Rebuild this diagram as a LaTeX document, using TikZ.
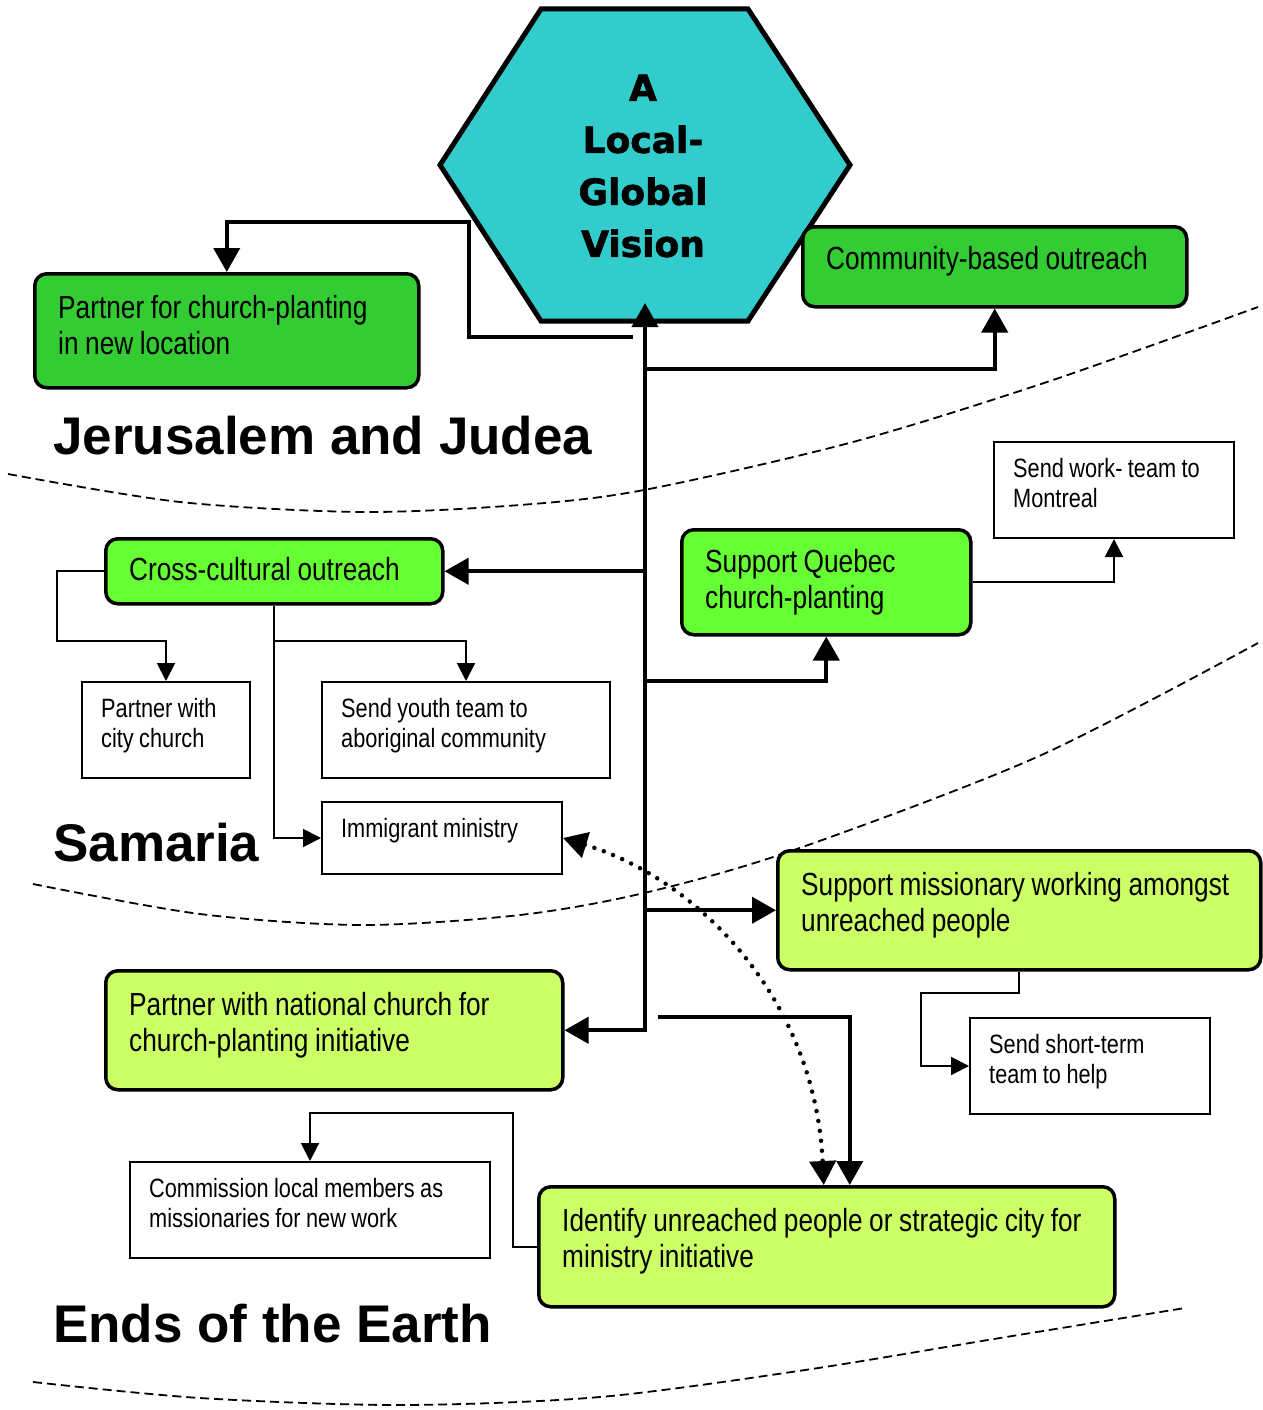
\documentclass[tikz,border=0pt]{standalone}
\usepackage{fontspec}
\setmainfont{Liberation Sans}[FakeStretch=0.82,WordSpace=0.9]
\newfontfamily\regionfont{Liberation Sans}
\newfontfamily\titlefont{DejaVu Sans}[FakeBold=1.8]
\usetikzlibrary{arrows.meta}
\definecolor{hexcol}{HTML}{33CCCC}
\definecolor{gA}{HTML}{33CC33}
\definecolor{gB}{HTML}{66FF33}
\definecolor{gC}{HTML}{CCFF66}
\tikzset{
  Tri/.tip={Triangle[length=24pt,width=26pt]},
  TriS/.tip={Triangle[length=18pt,width=18pt]},
  conn/.style={line width=4pt},
  thinconn/.style={line width=2pt},
  dotconn/.style={line width=4.5pt, dash pattern=on 0pt off 10pt, line cap=round},
  zone/.style={line width=1.8pt, dash pattern=on 9pt off 5pt},
  bigbox/.style={draw, line width=3.5pt, rounded corners=12pt, anchor=north west, inner sep=0pt},
  smallbox/.style={draw, line width=2pt, fill=white, anchor=north west, inner sep=0pt},
  btext/.style={anchor=west, xshift=25pt, inner sep=0pt, align=left, font=\fontsize{32}{36}\selectfont},
  stext/.style={anchor=west, xshift=20pt, inner sep=0pt, align=left, font=\fontsize{26.5}{30}\selectfont},
  region/.style={anchor=base west, inner sep=0pt, font=\regionfont\bfseries\fontsize{53}{60}\selectfont},
  title/.style={align=center, inner sep=0pt, font=\titlefont\bfseries\fontsize{36}{52}\selectfont},
}
\begin{document}
\begin{tikzpicture}[x=1pt,y=-1pt]
\useasboundingbox (0,0) rectangle (1262,1410);
\fill[white] (0,0) rectangle (1262,1410);

% zone boundaries
\draw[zone] plot[smooth] coordinates {(8,474) (180,502) (362,512) (520,505) (644,490) (853,442) (1050,381) (1258,307)};
\draw[zone] plot[smooth] coordinates {(33,884) (200,914) (362,925) (520,915) (644,893) (791,851) (1037,757) (1258,643)};
\draw[zone] plot[smooth] coordinates {(33,1382) (200,1398) (400,1405) (600,1397) (805,1370) (1000,1338) (1185,1308)};

% hexagon
\draw[line width=5pt, fill=hexcol, line join=miter] (541,9) -- (748,9) -- (850,165) -- (748,321) -- (541,321) -- (440,165) -- cycle;
\node[title] (vision) at (643,166) {A\\Local-\\Global\\Vision};
\coordinate (vtip) at (645,303);

% region labels
\node[region] (jer) at (53,454) {Jerusalem and Judea};
\node[region] (sam) at (53,861) {Samaria};
\node[region] (ends) at (53,1342) {Ends of the Earth};

% main boxes
\node[bigbox, fill=gA, minimum width=384pt, minimum height=114pt,
  label={[btext, yshift=6pt]west:{Partner for church-planting\\in new location}}] (partner) at (33,272) {};
\node[bigbox, fill=gA, minimum width=384pt, minimum height=80pt,
  label={[btext, yshift=6pt]west:{Community-based outreach}}] (community) at (801,225) {};
\node[bigbox, fill=gB, minimum width=337pt, minimum height=65pt,
  label={[btext, yshift=2pt]west:{Cross-cultural outreach}}] (cross) at (104,537) {};
\node[bigbox, fill=gB, minimum width=289pt, minimum height=105pt,
  label={[btext]west:{Support Quebec\\church-planting}}] (quebec) at (680,528) {};
\node[bigbox, fill=gC, minimum width=483pt, minimum height=119pt,
  label={[btext, yshift=5pt]west:{Support missionary working amongst\\unreached people}}] (missionary) at (776,849) {};
\node[bigbox, fill=gC, minimum width=457pt, minimum height=119pt,
  label={[btext, yshift=5pt]west:{Partner with national church for\\church-planting initiative}}] (national) at (104,969) {};
\node[bigbox, fill=gC, minimum width=576pt, minimum height=120pt,
  label={[btext, yshift=6pt]west:{Identify unreached people or strategic city for\\ministry initiative}}] (identify) at (537,1185) {};

% small boxes
\node[smallbox, minimum width=240pt, minimum height=96pt,
  label={[stext, yshift=7pt]west:{Send work- team to\\Montreal}}] (montreal) at (993,441) {};
\node[smallbox, minimum width=168pt, minimum height=96pt,
  label={[stext, yshift=4pt]west:{Partner with\\city church}}] (city) at (81,681) {};
\node[smallbox, minimum width=288pt, minimum height=96pt,
  label={[stext, yshift=4pt]west:{Send youth team to\\aboriginal community}}] (youth) at (321,681) {};
\node[smallbox, minimum width=240pt, minimum height=72pt,
  label={[stext, yshift=7pt]west:{Immigrant ministry}}] (immig) at (321,801) {};
\node[smallbox, minimum width=240pt, minimum height=96pt,
  label={[stext, yshift=4pt]west:{Send short-term\\team to help}}] (shortterm) at (969,1017) {};
\node[smallbox, minimum width=360pt, minimum height=96pt,
  label={[stext, yshift=7pt]west:{Commission local members as\\missionaries for new work}}] (commission) at (129,1161) {};

% thick connectors
\coordinate (j1) at (645,369);
\coordinate (j3) at (645,681);
\coordinate (pstart) at (633,337);
\coordinate (istart) at (658,1017);
\draw[conn, {Tri}-{Tri}] (national.east) -| (vtip);
\draw[conn, -{Tri}] (j1) -| (community.south);
\draw[conn, -{Tri}] (vtip |- cross.east) -- (cross.east);
\draw[conn, -{Tri}] (j3) -| (quebec.south);
\draw[conn, -{Tri}] (vtip |- missionary.west) -- (missionary.west);
\draw[conn, -{Tri}] (pstart) -- (469,337) -- (469,222) -| (partner.north);
\draw[conn, -{Tri}] (istart) -| ([xshift=23pt]identify.north);
\draw[dotconn, {Tri}-{Tri}] (immig.east) .. controls (700,880) and (815,1000) .. ([xshift=-3pt]identify.north);

% thin connectors
\draw[thinconn, -{TriS}] (cross.west) -| (57,641) -| (city.north);
\draw[thinconn, -{TriS}] (cross.south) -- (cross.south |- 0,641) -| (youth.north);
\draw[thinconn, -{TriS}] (cross.south) |- (immig.west);
\draw[thinconn, -{TriS}] (quebec.east) -| (montreal.south);
\draw[thinconn, -{TriS}] (missionary.south) |- (921,993) |- (shortterm.west);
\draw[thinconn, -{TriS}] (identify.west) -| (513,1113) -| (commission.north);
\end{tikzpicture}
\end{document}
